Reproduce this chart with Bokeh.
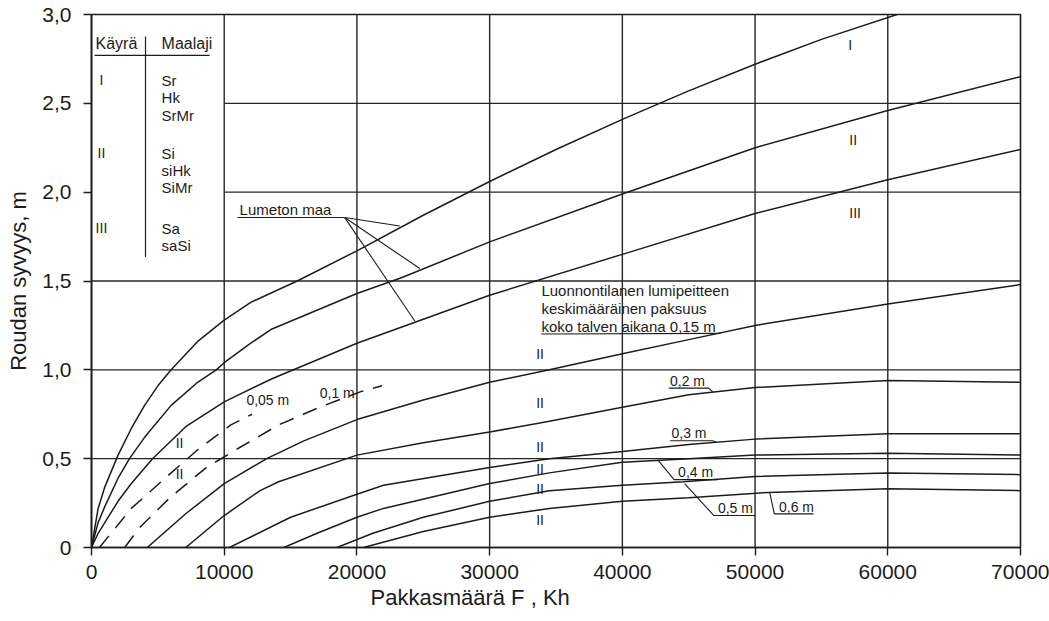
from bokeh.plotting import figure
from bokeh.models import Range1d, FixedTicker, Label, CustomJSTickFormatter, Title
from bokeh.embed import file_html
from bokeh.resources import INLINE

# ---------------- data ----------------
x_ticks = [0, 10000, 20000, 30000, 40000, 50000, 60000, 70000]
y_ticks = [0, 0.5, 1.0, 1.5, 2.0, 2.5, 3.0]

# Lumeton maa (snow-free ground), soil groups I, II, III
x_I = [0, 500, 1000, 2000, 3000, 4000, 5000, 6000, 8000, 10000, 12000, 15500,
       20000, 25000, 30000, 35000, 40000, 45000, 50000, 55000, 60700]
y_I = [0, 0.22, 0.34, 0.52, 0.67, 0.8, 0.91, 1.0, 1.16, 1.28, 1.38, 1.5,
       1.67, 1.87, 2.06, 2.24, 2.41, 2.57, 2.72, 2.86, 3.0]

x_II = [0, 500, 1000, 2000, 2860, 4000, 6000, 8000, 9400, 10000, 12000, 13600,
        20000, 23400, 30000, 40000, 50000, 60000, 70000]
y_II = [0, 0.14, 0.23, 0.39, 0.5, 0.62, 0.8, 0.93, 1.0, 1.04, 1.15, 1.23,
        1.43, 1.52, 1.72, 1.99, 2.25, 2.46, 2.65]

x_III = [0, 500, 1000, 2000, 3000, 4600, 7100, 10000, 13600, 20000, 30000,
         40000, 50000, 60000, 70000]
y_III = [0, 0.08, 0.14, 0.26, 0.36, 0.5, 0.68, 0.82, 0.95, 1.15, 1.42,
         1.65, 1.88, 2.07, 2.24]

# Snow cover 0.05 m and 0.1 m (dashed)
x_s005 = [600, 3000, 4200, 6000, 8000, 10500, 12100]
y_s005 = [0, 0.22, 0.3, 0.42, 0.55, 0.69, 0.75]

x_s010 = [2500, 3600, 5900, 8650, 11100, 14100, 17200, 20400, 21900]
y_s010 = [0, 0.11, 0.28, 0.45, 0.56, 0.69, 0.79, 0.88, 0.91]

# Natural snow cover, soil group II
x_s015 = [4200, 7100, 10000, 13200, 16000, 20000, 25000, 30000, 34500, 40000,
          45000, 50000, 60000, 70000]
y_s015 = [0, 0.19, 0.36, 0.5, 0.6, 0.72, 0.83, 0.93, 1.0, 1.09,
          1.17, 1.25, 1.37, 1.48]

x_s020 = [7100, 10000, 12700, 14100, 20000, 25000, 30000, 34500, 40000, 45000,
          50000, 60000, 70000]
y_s020 = [0, 0.18, 0.32, 0.37, 0.52, 0.59, 0.65, 0.71, 0.79, 0.86,
          0.9, 0.94, 0.93]

x_s030 = [10400, 15000, 20000, 22000, 30000, 34500, 40000, 45000, 50000,
          60000, 70000]
y_s030 = [0, 0.17, 0.3, 0.35, 0.45, 0.5, 0.54, 0.58, 0.61, 0.64, 0.64]

x_s040 = [14500, 17000, 20000, 22000, 30000, 34500, 40000, 45000, 50000,
          60000, 70000]
y_s040 = [0, 0.08, 0.17, 0.22, 0.36, 0.42, 0.48, 0.5, 0.52, 0.53, 0.52]

x_s050 = [18500, 21200, 25000, 30000, 34500, 40000, 44600, 50000, 60000, 70000]
y_s050 = [0, 0.08, 0.17, 0.26, 0.32, 0.35, 0.37, 0.4, 0.42, 0.41]

x_s060 = [20500, 25000, 30000, 34500, 40000, 45000, 51000, 60000, 70000]
y_s060 = [0, 0.09, 0.17, 0.22, 0.26, 0.28, 0.31, 0.33, 0.32]

# legend table texts
legend_curves = ["I", "II", "III"]
legend_soils = [["Sr", "Hk", "SrMr"], ["Si", "siHk", "SiMr"], ["Sa", "saSi"]]

# ---------------- figure ----------------
FONT = "Liberation Sans"
INK = "#1c1c1c"

p = figure(width=1049, height=618, output_backend="svg", toolbar_location=None,
           x_range=Range1d(0, 70000), y_range=Range1d(0, 3.0),
           min_border_left=91, min_border_right=29, min_border_top=14,
           min_border_bottom=71)
p.xgrid.grid_line_color = None
p.ygrid.grid_line_color = None
p.outline_line_color = INK
p.outline_line_width = 1.6
p.background_fill_color = "white"
p.border_fill_color = "white"

for ax in (p.xaxis[0], p.yaxis[0]):
    ax.major_tick_out = 8
    ax.major_tick_in = 0
    ax.minor_tick_out = 0
    ax.minor_tick_in = 0
    ax.axis_line_color = INK
    ax.axis_line_width = 1.6
    ax.major_tick_line_color = INK
    ax.major_tick_line_width = 1.4
    ax.major_label_text_font = FONT
    ax.major_label_text_font_size = "21px"
    ax.major_label_text_color = INK
    ax.axis_label_text_font = FONT
    ax.axis_label_text_font_size = "22px"
    ax.axis_label_text_font_style = "normal"
    ax.axis_label_text_color = INK

p.xaxis.ticker = FixedTicker(ticks=x_ticks)
p.yaxis.ticker = FixedTicker(ticks=y_ticks)
p.xaxis.formatter = CustomJSTickFormatter(code="return tick.toFixed(0);")
p.yaxis.formatter = CustomJSTickFormatter(
    code="return tick == 0 ? '0' : tick.toFixed(1).replace('.', ',');")
p.xaxis.major_label_standoff = 9
p.yaxis.major_label_standoff = 12
p.yaxis.axis_label_standoff = 8
p.yaxis.axis_label = "Roudan syvyys, m"

# x-axis title (placed left of centre, as in the original)
p.add_layout(Title(text="Pakkasmäärä  F , Kh", align="left", offset=279,
                   text_font=FONT, text_font_size="22px",
                   text_font_style="normal", text_color=INK, standoff=2),
             "below")

# grid lines (no horizontal grid inside the legend table area)
LEG_X, LEG_Y = 10000, 1.5
vx = x_ticks[1:-1]
p.segment(x0=vx, y0=[0] * len(vx), x1=vx, y1=[3.0] * len(vx),
          line_color="#262626", line_width=1.4)
hy = y_ticks[1:-1]
p.segment(x0=[LEG_X if y > LEG_Y else 0 for y in hy], y0=hy,
          x1=[70000] * len(hy), y1=hy, line_color="#262626", line_width=1.4)

# curves
CW = 1.5
for xs, ys in [(x_I, y_I), (x_II, y_II), (x_III, y_III), (x_s015, y_s015),
               (x_s020, y_s020), (x_s030, y_s030), (x_s040, y_s040),
               (x_s050, y_s050), (x_s060, y_s060)]:
    p.line(xs, ys, line_color=INK, line_width=CW)
for xs, ys in [(x_s005, y_s005), (x_s010, y_s010)]:
    p.line(xs, ys, line_color=INK, line_width=CW, line_dash="15 10")


def txt(x, y, s, size="15px", align="left"):
    p.add_layout(Label(x=x, y=y, text=s, text_font=FONT, text_font_size=size,
                       text_color=INK, text_align=align,
                       text_baseline="middle"))


def seg(xs, ys, w=1.1):
    p.line(xs, ys, line_color=INK, line_width=w)


# legend table
txt(300, 2.837, "Käyrä", size="16px")
txt(5280, 2.837, "Maalaji", size="16px")
seg([230, 8900], [2.77, 2.77], 1.4)
seg([4070, 4070], [2.876, 1.635], 1.2)
leg_rows_y = [[2.629, 2.534, 2.433], [2.219, 2.122, 2.027], [1.798, 1.701]]
for name, soils, ys in zip(legend_curves, legend_soils, leg_rows_y):
    txt(750, ys[0], name, size="14px", align="center")
    for s, yy in zip(soils, ys):
        txt(5280, yy, s)

# right-side curve labels
txt(57160, 2.826, "I", size="14px", align="center")
txt(57390, 2.292, "II", size="14px", align="center")
txt(57540, 1.882, "III", size="14px", align="center")

# Lumeton maa label and leaders
txt(11160, 1.904, "Lumeton maa")
seg([11000, 19080], [1.857, 1.857])
seg([19080, 23230], [1.857, 1.81])
seg([19080, 24740], [1.857, 1.57])
seg([19080, 24360], [1.857, 1.275])

# natural snow cover note
txt(33900, 1.444, "Luonnontilanen lumipeitteen")
txt(33900, 1.343, "keskimääräinen paksuus")
txt(33900, 1.242, "koko talven aikana 0,15 m")
seg([33900, 47400], [1.202, 1.205])

# dashed-curve labels
txt(11670, 0.833, "0,05 m", size="14px")
txt(17200, 0.872, "0,1 m", size="14px")
txt(6640, 0.59, "II", size="14px", align="center")
txt(6640, 0.416, "II", size="14px", align="center")

# II labels on the snow curves
for yy in [1.088, 0.816, 0.563, 0.442, 0.33, 0.152]:
    txt(33800, yy, "II", size="14px", align="center")

# snow depth labels with underline leaders
txt(43590, 0.935, "0,2 m", size="14px")
seg([43500, 46500, 46830], [0.897, 0.897, 0.875])
txt(43700, 0.646, "0,3 m", size="14px")
seg([43600, 46800, 47100], [0.601, 0.601, 0.593])
txt(44200, 0.427, "0,4 m", size="14px")
seg([42700, 43900, 47200], [0.49, 0.382, 0.382])
txt(47200, 0.222, "0,5 m", size="14px")
seg([44700, 46900, 50000], [0.358, 0.18, 0.18])
txt(51800, 0.23, "0,6 m", size="14px")
seg([51100, 51450, 54400], [0.311, 0.189, 0.189])

open("out.html", "w").write(file_html(p, INLINE))
